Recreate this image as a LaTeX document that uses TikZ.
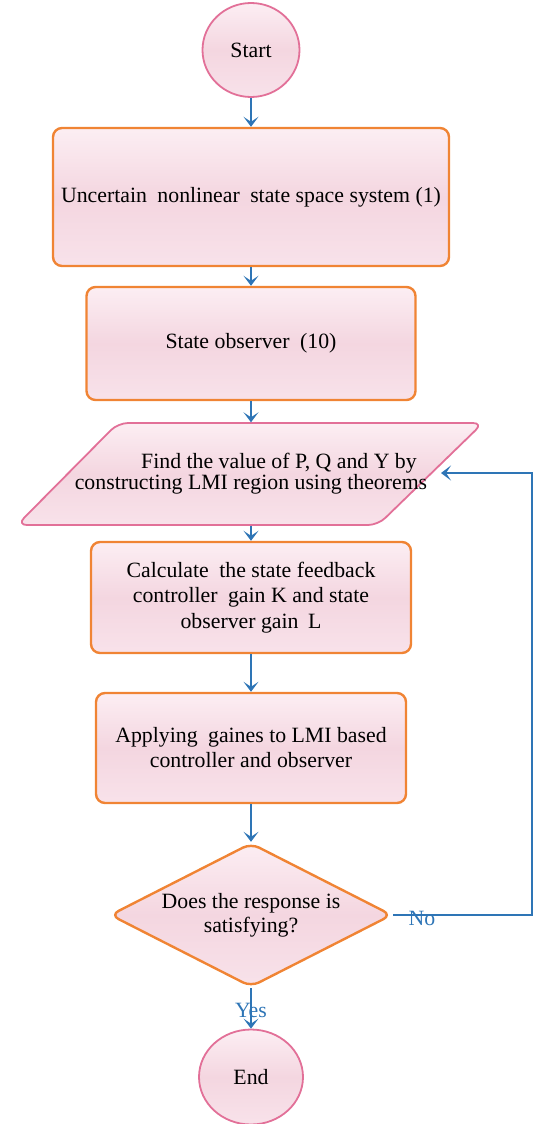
\documentclass[tikz,border=0pt]{standalone}
\usepackage{fontspec}
\setmainfont{Liberation Serif}
\usetikzlibrary{shapes.geometric,arrows.meta}
\definecolor{boxorange}{RGB}{240,132,52}
\definecolor{circpink}{RGB}{226,112,152}
\definecolor{flowblue}{RGB}{46,117,182}
\definecolor{pinkhi}{RGB}{252,238,243}
\definecolor{pinkmid}{RGB}{244,214,224}
\definecolor{pinklow}{RGB}{248,226,234}
\begin{document}
\begin{tikzpicture}[x=1pt,y=-1pt,
  every node/.style={font=\fontsize{21.8}{26}\selectfont, text=black},
  glossy/.style={top color=pinkhi, bottom color=pinklow, middle color=pinkmid},
  procbox/.style={draw=boxorange, line width=2.4pt, rounded corners=9pt, glossy, align=center, inner sep=0pt},
  termnode/.style={ellipse, draw=circpink, line width=1.8pt, glossy, inner sep=0pt},
  flow/.style={draw=flowblue, line width=2.4pt, -{Stealth[length=10pt,width=15pt,inset=5pt]}},
  flowlabel/.style={text=flowblue, inner sep=0pt}
]
\useasboundingbox (0,0) rectangle (536,1124);

% terminals and process boxes
\node[termnode, minimum width=97pt, minimum height=94pt] (start) at (251,50) {Start};
\node[procbox, minimum width=396pt, minimum height=138pt] (sys) at (251,197)
  {Uncertain\hspace{5pt} nonlinear\hspace{5pt} state space system (1)};
\node[procbox, minimum width=329pt, minimum height=113pt] (obs) at (251,343.5)
  {State observer\hspace{5pt} (10)};

% input/output parallelogram
\draw[draw=circpink, line width=1.8pt, glossy, rounded corners=10pt]
  (118,423) -- (483,423) -- (378,525) -- (17,525) -- cycle;
\node[align=center, minimum height=103pt, inner sep=0pt,
      font=\fontsize{21.8}{18}\selectfont] (find) at (251,474)
  {\hspace*{56pt}Find the value of P, Q and Y by\\constructing LMI region using theorems};

\node[procbox, minimum width=320pt, minimum height=111pt,
      font=\fontsize{21.8}{25.5}\selectfont] (gain) at (251,597.5)
  {Calculate\hspace{5pt} the state feedback\\controller\hspace{5pt} gain K and state\\observer gain\hspace{4pt} L};
\node[procbox, minimum width=310pt, minimum height=110pt,
      font=\fontsize{21.8}{25}\selectfont] (apply) at (251,748)
  {Applying\hspace{5pt} gaines to LMI based\\controller and observer};

\node[diamond, aspect=1.96, draw=boxorange, line width=2.4pt, glossy, inner sep=0pt,
      minimum width=282pt, minimum height=144pt, align=center, rounded corners=9pt,
      font=\fontsize{21.8}{24}\selectfont] (dec) at (251,915)
  {Does the response is\\satisfying?};

\node[termnode, minimum width=104pt, minimum height=95pt] (endn) at (251,1077) {End};

% connectors
\draw[flow] (start.south) -- (sys.north);
\draw[flow] (sys.south) -- (obs.north);
\draw[flow] (obs.south) -- (find.north);
\draw[flow] (find.south) -- (gain.north);
\draw[flow] (gain.south) -- (apply.north);
\draw[flow] (apply.south) -- (dec.north);
\draw[flow] (dec.south) -- (endn.north);

\coordinate (fbr) at (532,915);
\coordinate (fbt) at (532,473);
\coordinate (fbin) at (441,473);
\draw[flow] (dec.east) -- (fbr) -- (fbt) -- (fbin);

\node[flowlabel] (nolab) at (422,918) {No};
\node[flowlabel] (yeslab) at (251,1010) {Yes};
\end{tikzpicture}
\end{document}
